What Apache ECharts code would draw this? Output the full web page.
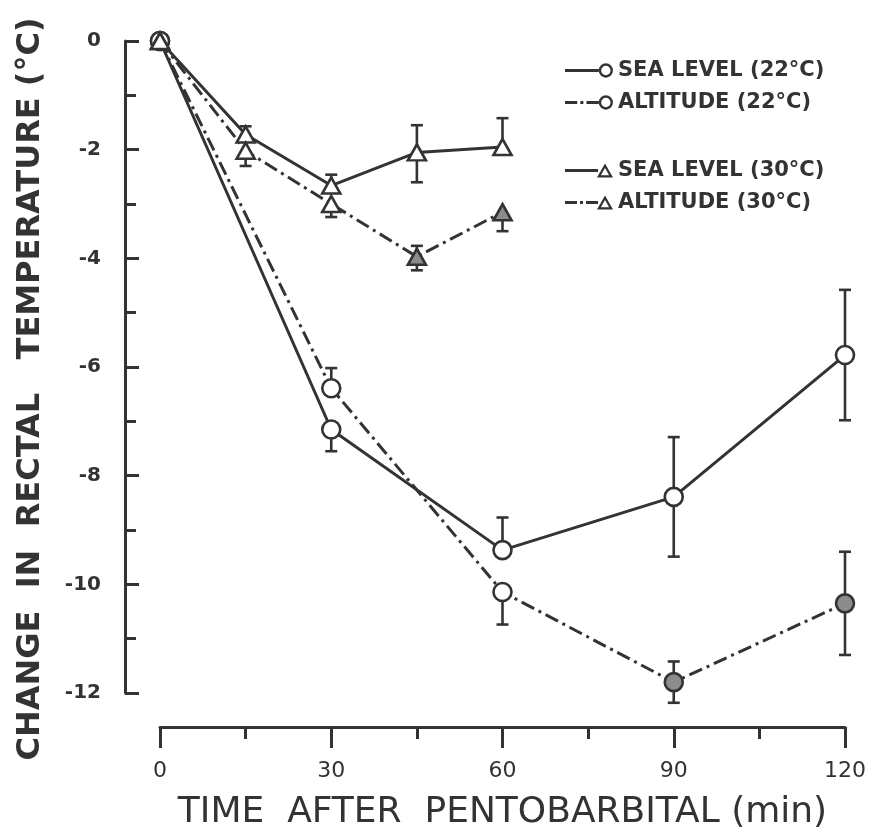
<!DOCTYPE html>
<html>
<head>
<meta charset="utf-8">
<script src="https://cdn.jsdelivr.net/npm/echarts@6/dist/echarts.min.js"></script>
<style>
  html, body { margin: 0; padding: 0; background: #fff; }
  #chart { width: 874px; height: 832px; }
</style>
</head>
<body>
<div id="chart"></div>
<script>
// ---- data ----
const xTicks = [0, 30, 60, 90, 120];
const yTicks = [0, -2, -4, -6, -8, -10, -12];

const seriesNames = ['SEA LEVEL (22°C)', 'ALTITUDE (22°C)', 'SEA LEVEL (30°C)', 'ALTITUDE (30°C)'];

// 22 °C groups
const time22 = [0, 30, 60, 90, 120];
const seaLevel22 = [0, -7.15, -9.37, -8.39, -5.78];
const seaLevel22ErrUp = [0, 0, 0.6, 1.1, 1.2];
const seaLevel22ErrDown = [0, 0.4, 0, 1.1, 1.2];
const altitude22 = [0, -6.39, -10.14, -11.8, -10.35];
const altitude22ErrUp = [0, 0.37, 0, 0.38, 0.95];
const altitude22ErrDown = [0, 0, 0.6, 0.38, 0.95];
const altitude22Filled = [3, 4]; // indices drawn with shaded markers

// 30 °C groups
const time30 = [0, 15, 30, 45, 60];
const seaLevel30 = [0, -1.72, -2.66, -2.05, -1.95];
const seaLevel30ErrUp = [0, 0.15, 0.2, 0.5, 0.53];
const seaLevel30ErrDown = [0, 0, 0, 0.55, 0];
const altitude30 = [0, -2.02, -3.0, -3.97, -3.15];
const altitude30ErrUp = [0, 0, 0, 0.2, 0];
const altitude30ErrDown = [0, 0.28, 0.24, 0.25, 0.35];
const altitude30Filled = [3, 4];

// ---- styling ----
const INK = '#333333';
const SHADE = '#8c8c8c';
const FONT = 'DejaVu Sans';
const DASHDOT = [14, 5, 3, 5];

function pts(xs, ys, filled) {
  return xs.map((x, i) => {
    const item = { value: [x, ys[i]] };
    if (filled && filled.indexOf(i) >= 0) item.itemStyle = { color: SHADE };
    return item;
  });
}

function lineSeries(name, xs, ys, symbol, size, dashed, filled) {
  return {
    name: name,
    type: 'line',
    data: pts(xs, ys, filled),
    symbol: symbol,
    symbolSize: size,
    showAllSymbol: true,
    z: 3,
    lineStyle: { color: INK, width: 3, type: dashed ? DASHDOT : 'solid' },
    itemStyle: { color: '#fff', borderColor: INK, borderWidth: 2.6 },
    emphasis: { disabled: true },
    animation: false
  };
}

function errSeries(xs, ys, up, down) {
  return {
    type: 'custom',
    z: 2,
    silent: true,
    animation: false,
    data: xs.map((x, i) => [x, ys[i], ys[i] + up[i], ys[i] - down[i]]),
    encode: { x: 0, y: [1, 2, 3] },
    renderItem: function (params, api) {
      const x = api.value(0);
      const c = api.coord([x, api.value(1)]);
      const hi = api.coord([x, api.value(2)]);
      const lo = api.coord([x, api.value(3)]);
      const st = { stroke: INK, lineWidth: 2.6 };
      const w = 6;
      const ch = [];
      if (hi[1] < c[1] - 0.5) {
        ch.push({ type: 'line', shape: { x1: c[0], y1: c[1], x2: hi[0], y2: hi[1] }, style: st });
        ch.push({ type: 'line', shape: { x1: hi[0] - w, y1: hi[1], x2: hi[0] + w, y2: hi[1] }, style: st });
      }
      if (lo[1] > c[1] + 0.5) {
        ch.push({ type: 'line', shape: { x1: c[0], y1: c[1], x2: lo[0], y2: lo[1] }, style: st });
        ch.push({ type: 'line', shape: { x1: lo[0] - w, y1: lo[1], x2: lo[0] + w, y2: lo[1] }, style: st });
      }
      return { type: 'group', children: ch };
    }
  };
}

// legend icons: line sample followed by marker
const RING = 'M33 8A7 7 0 1 0 47 8A7 7 0 1 0 33 8Z M35.4 8A4.6 4.6 0 1 1 44.6 8A4.6 4.6 0 1 1 35.4 8Z';
const TRI = 'M40 1L48 15L32 15Z M40 5.6L35.9 12.8L44.1 12.8Z';
const SOLID = 'M0 6.6H33V9.4H0Z ';
const DD = 'M0 6.6H12V9.4H0Z M15 6.6H18V9.4H15Z M21 6.6H33V9.4H21Z ';
const icons = [
  'path://' + SOLID + RING,
  'path://' + DD + RING,
  'path://' + SOLID + TRI,
  'path://' + DD + TRI
];

const legendBase = {
  orient: 'vertical',
  left: 560,
  itemWidth: 48,
  itemHeight: 16,
  itemGap: 11,
  selectedMode: false,
  itemStyle: { color: INK, borderWidth: 0 },
  textStyle: { fontFamily: FONT, fontSize: 21, fontWeight: 'bold', color: INK }
};

const chart = echarts.init(document.getElementById('chart'), null, { renderer: 'canvas' });
chart.setOption({
  animation: false,
  backgroundColor: '#fff',
  grid: { left: 160, right: 29, top: 41, bottom: 139, containLabel: false, outerBoundsMode: 'none' },
  legend: [
    Object.assign({}, legendBase, {
      top: 55,
      data: [{ name: seriesNames[0], icon: icons[0] }, { name: seriesNames[1], icon: icons[1] }]
    }),
    Object.assign({}, legendBase, {
      top: 155,
      data: [{ name: seriesNames[2], icon: icons[2] }, { name: seriesNames[3], icon: icons[3] }]
    })
  ],
  xAxis: {
    type: 'value',
    min: xTicks[0],
    max: xTicks[xTicks.length - 1],
    interval: 30,
    offset: 34,
    name: 'TIME  AFTER  PENTOBARBITAL (min)',
    nameLocation: 'middle',
    nameGap: 68,
    nameTextStyle: { fontFamily: FONT, fontSize: 36, color: INK },
    axisLine: { show: true, onZero: false, lineStyle: { color: INK, width: 3 } },
    axisTick: { show: true, inside: false, length: 21, lineStyle: { color: INK, width: 3 } },
    minorTick: { show: true, splitNumber: 2, length: 12, lineStyle: { color: INK, width: 3 } },
    splitLine: { show: false },
    axisLabel: {
      margin: 33,
      fontFamily: FONT, fontSize: 22, color: INK,
      formatter: v => (xTicks.indexOf(v) >= 0 ? String(v) : '')
    }
  },
  yAxis: {
    type: 'value',
    min: yTicks[yTicks.length - 1],
    max: yTicks[0],
    interval: 2,
    offset: 35,
    name: 'CHANGE  IN  RECTAL   TEMPERATURE (°C)',
    nameLocation: 'middle',
    nameGap: 78,
    nameTextStyle: { fontFamily: FONT, fontSize: 32, fontWeight: 'bold', color: INK, padding: [0, 44, 0, 0] },
    axisLine: { show: true, onZero: false, lineStyle: { color: INK, width: 3 } },
    axisTick: { show: true, inside: true, length: 14, lineStyle: { color: INK, width: 3 } },
    minorTick: { show: true, splitNumber: 2, length: 11, lineStyle: { color: INK, width: 3 } },
    splitLine: { show: false },
    axisLabel: {
      margin: 24,
      fontFamily: FONT, fontSize: 20, fontWeight: 'bold', color: INK,
      formatter: v => (yTicks.indexOf(v) >= 0 ? String(v) : '')
    }
  },
  series: [
    errSeries(time22, seaLevel22, seaLevel22ErrUp, seaLevel22ErrDown),
    errSeries(time22, altitude22, altitude22ErrUp, altitude22ErrDown),
    errSeries(time30, seaLevel30, seaLevel30ErrUp, seaLevel30ErrDown),
    errSeries(time30, altitude30, altitude30ErrUp, altitude30ErrDown),
    lineSeries(seriesNames[0], time22, seaLevel22, 'circle', 18, false, null),
    lineSeries(seriesNames[1], time22, altitude22, 'circle', 18, true, altitude22Filled),
    lineSeries(seriesNames[2], time30, seaLevel30, 'triangle', [18, 16], false, null),
    lineSeries(seriesNames[3], time30, altitude30, 'triangle', [18, 16], true, altitude30Filled)
  ]
});
</script>
</body>
</html>
